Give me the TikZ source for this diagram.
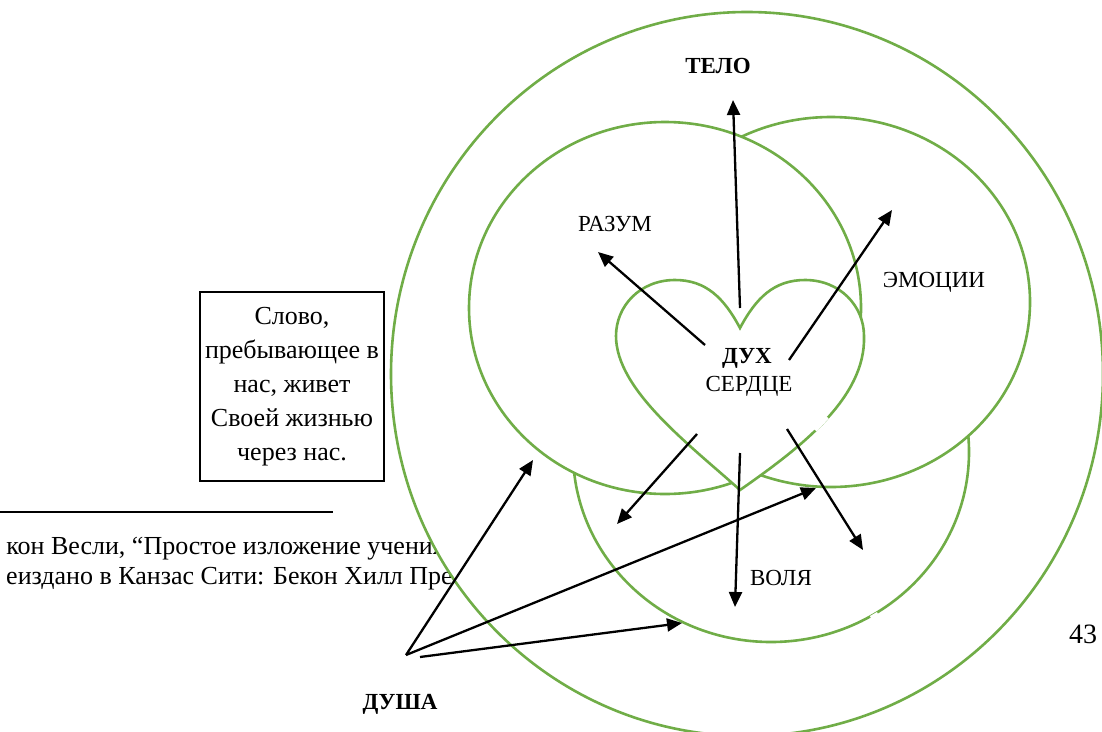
\documentclass[tikz,border=0pt]{standalone}
\usepackage{fontspec}
\setmainfont{Liberation Serif}
\usetikzlibrary{arrows.meta}
\definecolor{grn}{RGB}{112,173,71}
\begin{document}
\begin{tikzpicture}[x=1pt,y=-1pt,
  ring/.style={draw=grn, line width=2.6pt, fill=white},
  gap/.style={draw=white, line width=4.5pt},
  arr/.style={draw=black, line width=2.3pt, -{Triangle[length=15pt,width=13pt]}},
  lbl/.style={font=\fontsize{23}{27}\selectfont, inner sep=0pt, anchor=base},
  blbl/.style={font=\fontsize{23}{27}\selectfont\bfseries, inner sep=0pt, anchor=base},
  fnote/.style={font=\fontsize{26}{31}\selectfont, inner sep=0pt, anchor=base east},
  quote/.style={draw=black, line width=1.3pt, align=center, inner xsep=5pt,
    minimum width=182pt, minimum height=189pt, font=\fontsize{26}{34}\selectfont}]
\useasboundingbox (0,0) rectangle (1102,731);
\clip (0,0) rectangle (1102,731);
% footnote
\coordinate (ruleA) at (0,512);
\coordinate (ruleB) at (333,512);
\draw[line width=2pt] (ruleA) -- (ruleB);
\node[fnote] (fn1) at (445,554) {кон Весли, “Простое изложение учения};
\node[fnote] (fn2) at (453,584) {еиздано в Канзас Сити: Бекон Хилл Пре};
% quote box
\node[quote] (box) at (292,386.5) {Слово,\\пребывающее в\\нас, живет\\Своей жизнью\\через нас.};
% circles
\draw[ring] (747,374) ellipse [x radius=356, y radius=362];
\draw[ring] (771,452) ellipse [x radius=198, y radius=190];
\draw[ring] (831,302) ellipse [x radius=199, y radius=185];
\draw[ring] (665,308) ellipse [x radius=196, y radius=186];
% heart
\draw[ring] (740,328) .. controls (724,298) and (706,280) .. (675,280)
  .. controls (640,280) and (616,306) .. (616,336)
  .. controls (616,390) and (690,445) .. (740,490)
  .. controls (800,448) and (866,398) .. (864,336)
  .. controls (864,306) and (840,280) .. (805,280)
  .. controls (774,280) and (756,298) .. (740,328) -- cycle;
% small breaks in the outlines
\draw[gap] (827,417) -- (815,430);
\draw[gap] (871,618) -- (878,614);
% labels
\node[blbl] (telo) at (718,73) {ТЕЛО};
\node[lbl] (razum) at (615,231) {РАЗУМ};
\node[lbl] (emo) at (934,287) {ЭМОЦИИ};
\node[blbl] (dukh) at (747,363) {ДУХ};
\node[lbl] (serdce) at (749,391) {СЕРДЦЕ};
\node[lbl] (volya) at (781,585) {ВОЛЯ};
\node[blbl] (dusha) at (400,709) {ДУША};
\node[font=\fontsize{28}{32}\selectfont, inner sep=0pt, anchor=base west] (page) at (1069,643) {43};
% arrow end points
\coordinate (sT) at (740,308); \coordinate (eT) at (733,100);
\coordinate (sR) at (705,345); \coordinate (eR) at (598,252);
\coordinate (sE) at (789,360); \coordinate (eE) at (892,210);
\coordinate (sLL) at (697,434); \coordinate (eLL) at (617,524);
\coordinate (sLC) at (740,453); \coordinate (eLC) at (735,607);
\coordinate (sLR) at (787,429); \coordinate (eLR) at (863,550);
\coordinate (dO) at (406,655); \coordinate (dO2) at (420,657);
\coordinate (dA) at (533,460); \coordinate (dB) at (816,488); \coordinate (dC) at (682,623);
\draw[arr] (sT) -- (eT);
\draw[arr] (sR) -- (eR);
\draw[arr] (sE) -- (eE);
\draw[arr] (sLL) -- (eLL);
\draw[arr] (sLC) -- (eLC);
\draw[arr] (sLR) -- (eLR);
\draw[arr] (dO) -- (dA);
\draw[arr] (dO) -- (dB);
\draw[arr] (dO2) -- (dC);
\end{tikzpicture}
\end{document}
